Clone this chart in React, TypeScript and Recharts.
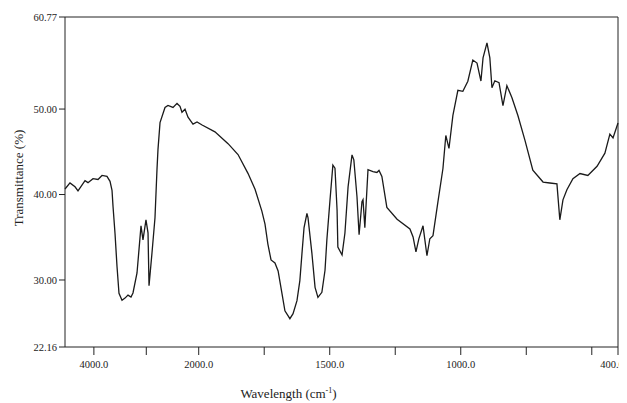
import React from 'react';
import { LineChart, Line, XAxis, YAxis, ReferenceLine } from 'recharts';

// wavenumbers (cm-1) from left to right
const wavenumbers = [
  4551, 4456, 4360, 4303, 4169, 4112, 4017, 3921, 3845, 3750, 3692, 3654, 3635, 3597, 3559, 3521,
  3463, 3406, 3349, 3292, 3254, 3177, 3101, 3063, 3006, 2967, 2948, 2891, 2834, 2796, 2777, 2738,
  2643, 2586, 2490, 2414, 2357, 2319, 2261, 2204, 2109, 2032, 1987, 1938, 1888, 1850, 1812, 1785,
  1759, 1747, 1736, 1724, 1709, 1697, 1682, 1671, 1652, 1640, 1625, 1614, 1606, 1598, 1587, 1583,
  1568, 1556, 1545, 1530, 1518, 1511, 1499, 1488, 1480, 1472, 1469, 1453, 1442, 1430, 1415, 1408,
  1396, 1388, 1377, 1373, 1366, 1354, 1335, 1320, 1312, 1301, 1282, 1243, 1194, 1182, 1171, 1160,
  1144, 1129, 1118, 1106, 1087, 1068, 1057, 1045, 1030, 1011, 992, 973, 954, 938, 923, 915, 900,
  889, 881, 870, 854, 839, 824, 805, 782, 755, 725, 686, 660, 633, 622, 610, 595, 572, 545, 515,
  480, 450, 431, 419, 400,
];

// transmittance (%) at each wavenumber above
const transmittance = [
  40.65, 41.36, 40.9, 40.43, 41.62, 41.39, 41.86, 41.76, 42.23, 42.12, 41.54, 40.49, 38.62, 35.47, 31.61, 28.45,
  27.64, 27.88, 28.23, 28.01, 28.48, 30.82, 36.33, 34.69, 37.04, 35.52, 29.32, 33.19, 37.29, 42.91, 45.25, 48.41,
  50.18, 50.42, 50.19, 50.66, 50.32, 49.62, 49.98, 49.04, 48.24, 48.48, 48.13, 47.33, 45.95, 44.68, 42.48, 40.62,
  38.06, 36.54, 34.2, 32.34, 31.99, 31.06, 28.38, 26.4, 25.47, 26.06, 27.58, 29.93, 33.09, 36.14, 37.78, 37.31,
  33.11, 29.14, 27.97, 28.56, 31.14, 34.66, 39.34, 43.44, 43.09, 38.18, 33.86, 32.93, 35.5, 40.89, 44.64, 44.06,
  39.74, 35.29, 39.16, 39.4, 36.12, 42.91, 42.69, 42.58, 42.82, 42.12, 38.5, 37.11, 35.97, 35.03, 33.29, 34.81,
  36.34, 32.84, 34.83, 35.19, 39.17, 43.04, 46.91, 45.39, 49.26, 52.19, 52.08, 53.26, 55.73, 55.38, 53.28, 55.98, 57.74,
  55.99, 52.49, 53.31, 53.08, 50.4, 52.74, 51.35, 49.25, 46.34, 42.84, 41.46, 41.35, 41.24, 37.04, 39.38, 40.56, 41.86, 42.46, 42.23,
  43.3, 44.84, 47.07, 46.61, 48.37,
];

const xTicksWn = [4000, 3000, 2000, 1750, 1500, 1250, 1000, 750, 500, 400];
const xLabelsWn = [4000, 2000, 1500, 1000, 400];
const yTicks = [22.16, 30, 40, 50, 60.77];

// the instrument compresses everything above 2000 cm-1 by 5x
const toAxis = (wn: number) => (wn <= 2000 ? wn : 2000 + (wn - 2000) * 0.2);
const fromAxis = (u: number) => (u <= 2000 ? u : 2000 + (u - 2000) / 0.2);

const data = wavenumbers.map((wn, i) => ({ u: toAxis(wn), t: transmittance[i] }));

const font = 'Liberation Serif, Times, serif';

const XTick = ({ x, y, payload }: any) => {
  const wn = Math.round(fromAxis(payload.value));
  if (!xLabelsWn.includes(wn)) return null;
  // last label sits on the frame edge, nudge it in so it is not clipped
  const dx = wn === 400 ? -6 : 0;
  return (
    <text x={x + dx} y={y + 4} dy="0.71em" textAnchor="middle" style={{ fontFamily: font }} fontSize={10.5} fill="#222">
      {wn.toFixed(1)}
    </text>
  );
};

const YTick = ({ x, y, payload }: any) => (
  <text x={x} y={y} dy="0.355em" textAnchor="end" style={{ fontFamily: font }} fontSize={10.5} fill="#222">
    {Number(payload.value).toFixed(2)}
  </text>
);

const XTitle = ({ viewBox }: any) => (
  <text x={viewBox.x + viewBox.width / 2 - 53} y={390} textAnchor="middle" style={{ fontFamily: font }} fontSize={13} fill="#222">
    Wavelength  (cm
    <tspan dy={-5} fontSize={8}>-1</tspan>
    <tspan dy={5}>)</tspan>
  </text>
);

const YTitle = ({ viewBox }: any) => (
  <text
    transform={`translate(15, ${viewBox.y + viewBox.height / 2 - 4}) rotate(-90)`}
    textAnchor="middle"
    style={{ fontFamily: font }}
    fontSize={13}
    fill="#222"
  >
    Transmittance (%)
  </text>
);

export default function App() {
  return (
    <div style={{ width: 619, height: 395, background: '#fff', fontFamily: font }}>
      <LineChart width={619} height={395} data={data} margin={{ top: 9, right: 9, bottom: 16, left: 0 }}>
        <XAxis
          dataKey="u"
          type="number"
          domain={[400, 2510]}
          reversed
          ticks={xTicksWn.map(toAxis)}
          interval={0}
          height={40}
          tickSize={8}
          stroke="#222"
          tick={<XTick />}
          label={<XTitle />}
        />
        <YAxis
          type="number"
          domain={[22.16, 60.77]}
          ticks={yTicks}
          interval={0}
          width={57}
          tickSize={6}
          tickMargin={2}
          stroke="#222"
          tick={<YTick />}
          label={<YTitle />}
        />
        <ReferenceLine y={60.77} stroke="#222" strokeWidth={1} />
        <ReferenceLine x={400} stroke="#222" strokeWidth={1} />
        <Line
          type="linear"
          dataKey="t"
          stroke="#1a1a1a"
          strokeWidth={1.3}
          dot={false}
          isAnimationActive={false}
        />
      </LineChart>
    </div>
  );
}
